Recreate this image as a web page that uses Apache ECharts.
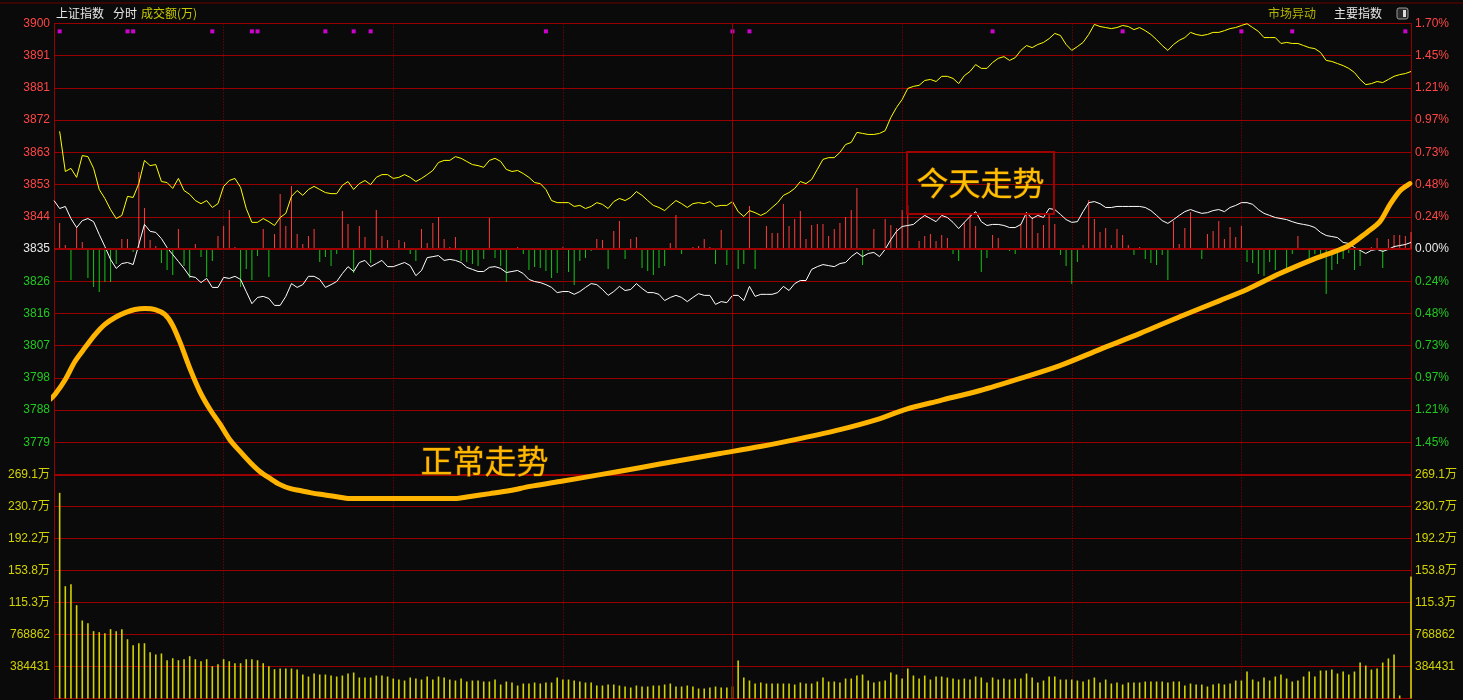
<!DOCTYPE html>
<html>
<head>
<meta charset="utf-8">
<title>上证指数 分时</title>
<script src="https://cdn.jsdelivr.net/npm/echarts@6/dist/echarts.min.js"></script>
<style>
  html, body { margin: 0; padding: 0; background: #0a0a0a; }
  #chart { width: 1463px; height: 700px; }
</style>
</head>
<body>
<div id="chart"></div>
<script>
// 昨收与每格点数
const prevClose = 3835;
const priceStep = 9.31;
const alertLevel = 3897.9;

const priceLabels = ['3900', '3891', '3881', '3872', '3863', '3853', '3844', '3835',
  '3826', '3816', '3807', '3798', '3788', '3779', ''];
const pctLabels = ['1.70%', '1.45%', '1.21%', '0.97%', '0.73%', '0.48%', '0.24%', '0.00%',
  '0.24%', '0.48%', '0.73%', '0.97%', '1.21%', '1.45%', ''];
const volLabels = ['', '384431', '768862', '115.3万', '153.8万', '192.2万', '230.7万', '269.1万'];

// 黄线（不含加权）
const yellowLine = [
  null, 3869.0, 3857.4, 3858.3, 3855.7, 3862.0, 3861.7, 3858.3, 3852.2, 3849.6,
  3846.4, 3843.8, 3844.7, 3850.2, 3849.9, 3853.9, 3860.6, 3859.1, 3859.4, 3854.5,
  3854.2, 3852.5, 3855.4, 3851.9, 3850.8, 3849.0, 3848.1, 3849.0, 3847.0, 3848.1,
  3853.1, 3854.8, 3855.4, 3852.8, 3846.7, 3842.7, 3842.7, 3843.8, 3842.9, 3841.8,
  3844.1, 3845.3, 3850.2, 3851.9, 3850.5, 3852.2, 3853.1, 3852.2, 3851.3, 3851.0,
  3851.0, 3853.4, 3854.5, 3852.2, 3853.9, 3854.8, 3853.6, 3855.7, 3856.5, 3856.5,
  3855.4, 3855.7, 3856.5, 3855.7, 3854.5, 3855.4, 3856.5, 3857.7, 3860.0, 3860.6,
  3860.6, 3861.7, 3861.2, 3860.3, 3859.4, 3859.1, 3858.6, 3860.6, 3861.2, 3860.3,
  3858.0, 3857.4, 3857.7, 3856.8, 3855.7, 3854.2, 3853.9, 3852.2, 3849.0, 3848.4,
  3848.4, 3848.4, 3847.3, 3847.6, 3846.7, 3847.3, 3848.4, 3847.9, 3846.7, 3848.7,
  3849.6, 3849.0, 3849.9, 3851.6, 3850.5, 3849.0, 3847.6, 3847.0, 3846.1, 3847.6,
  3849.0, 3848.1, 3847.0, 3848.1, 3848.4, 3848.1, 3848.7, 3847.3, 3847.6, 3847.6,
  3848.7, 3845.8, 3844.4, 3846.1, 3845.5, 3844.7, 3845.5, 3847.0, 3848.4, 3850.5,
  3851.3, 3852.5, 3854.5, 3853.9, 3855.1, 3858.0, 3860.9, 3861.4, 3861.4, 3862.9,
  3865.2, 3865.8, 3868.7, 3868.4, 3868.1, 3868.1, 3868.4, 3869.2, 3873.0, 3875.9,
  3878.2, 3881.4, 3882.0, 3882.3, 3883.7, 3884.0, 3883.4, 3884.9, 3884.9, 3884.3,
  3882.8, 3885.1, 3886.3, 3888.3, 3887.2, 3887.2, 3888.9, 3890.1, 3890.6, 3889.5,
  3890.3, 3892.4, 3893.8, 3893.2, 3894.1, 3894.7, 3895.8, 3897.3, 3896.7, 3894.1,
  3892.4, 3893.5, 3894.7, 3897.0, 3899.9, 3899.3, 3899.0, 3898.7, 3899.0, 3899.6,
  3899.3, 3898.4, 3899.0, 3898.1, 3897.0, 3895.5, 3893.8, 3892.4, 3894.1, 3895.3,
  3896.1, 3897.6, 3897.0, 3896.7, 3897.0, 3897.6, 3897.6, 3898.1, 3898.7, 3899.0,
  3899.6, 3900.1, 3899.0, 3897.9, 3896.1, 3896.1, 3896.1, 3894.4, 3894.7, 3894.4,
  3894.4, 3893.8, 3893.2, 3892.9, 3891.8, 3889.5, 3889.2, 3888.6, 3888.0, 3887.2,
  3886.0, 3884.0, 3882.5, 3882.8, 3883.4, 3883.1, 3884.0, 3884.9, 3885.4, 3885.7,
  3886.3
];

// 白线（上证指数）
const whiteLine = [
  3849.0, 3846.7, 3847.3, 3843.8, 3841.2, 3843.2, 3843.8, 3842.9, 3839.2, 3835.7,
  3832.0, 3829.4, 3830.8, 3831.1, 3830.5, 3836.3, 3842.1, 3840.1, 3839.8, 3838.0,
  3835.4, 3833.4, 3831.4, 3829.4, 3827.1, 3826.8, 3825.3, 3826.5, 3823.9, 3823.9,
  3826.8, 3826.5, 3827.1, 3826.2, 3822.7, 3819.2, 3821.0, 3821.3, 3820.7, 3818.7,
  3818.7, 3821.3, 3825.0, 3823.9, 3824.7, 3827.1, 3827.1, 3826.2, 3823.9, 3824.7,
  3825.6, 3827.9, 3829.9, 3828.5, 3831.1, 3831.7, 3829.9, 3830.8, 3831.7, 3829.9,
  3829.9, 3830.5, 3831.1, 3830.2, 3827.3, 3828.8, 3832.5, 3832.8, 3833.1, 3831.7,
  3832.0, 3831.7, 3831.1, 3829.7, 3829.1, 3828.5, 3828.5, 3829.7, 3829.9, 3829.4,
  3828.2, 3828.5, 3828.8, 3827.9, 3826.2, 3825.6, 3825.3, 3824.7, 3823.9, 3822.4,
  3822.7, 3822.7, 3821.9, 3822.7, 3823.9, 3825.0, 3824.7, 3823.3, 3821.6, 3822.7,
  3824.2, 3823.0, 3823.3, 3825.0, 3823.6, 3822.4, 3822.4, 3821.9, 3820.1, 3821.0,
  3821.6, 3821.0, 3819.8, 3821.0, 3822.1, 3821.6, 3821.6, 3819.0, 3819.8, 3819.5,
  3821.6, 3821.6, 3820.1, 3824.2, 3821.3, 3821.9, 3821.9, 3821.9, 3822.4, 3824.2,
  3823.0, 3825.0, 3825.9, 3825.9, 3829.1, 3829.9, 3830.5, 3830.2, 3829.9, 3830.8,
  3831.1, 3832.8, 3834.0, 3832.8, 3833.7, 3834.0, 3832.8, 3834.9, 3837.7, 3840.1,
  3841.5, 3841.8, 3842.1, 3843.5, 3844.7, 3843.8, 3842.9, 3844.7, 3844.1, 3842.7,
  3840.9, 3842.7, 3844.4, 3845.8, 3842.9, 3841.8, 3842.1, 3842.1, 3841.8, 3841.2,
  3841.2, 3842.1, 3845.5, 3843.8, 3844.7, 3844.1, 3846.7, 3846.4, 3845.0, 3843.5,
  3842.7, 3842.9, 3845.8, 3848.4, 3848.7, 3848.1, 3847.0, 3847.0, 3847.3, 3847.3,
  3847.3, 3847.3, 3847.3, 3847.0, 3846.1, 3844.7, 3843.2, 3842.4, 3843.5, 3844.7,
  3845.8, 3846.4, 3845.8, 3845.3, 3845.5, 3846.1, 3846.4, 3845.8, 3847.0, 3847.6,
  3848.4, 3848.4, 3847.9, 3846.4, 3845.3, 3844.7, 3844.1, 3843.8, 3843.5, 3842.9,
  3842.4, 3842.1, 3841.8, 3841.2, 3839.8, 3838.9, 3838.6, 3838.3, 3836.9, 3836.6,
  3835.4, 3834.6, 3833.7, 3834.6, 3834.9, 3834.3, 3834.9, 3835.7, 3836.0, 3836.3,
  3836.9
];

// 红绿柱（涨跌力度）
const breadth = [
  0, 26, 4, -31, 22, 7, -29, -38, -43, -33,
  -33, -15, 10, 10, -3, 77, 41, 9, 3, -14,
  -21, -26, 20, -17, -29, 5, -8, -28, -12, 13,
  23, 39, 2, -38, -20, -31, -7, 20, -28, 15,
  55, 23, 63, 15, 5, 13, 20, -13, -8, -17,
  -5, 38, 25, -24, 23, 12, -14, 39, 13, 9,
  -1, 9, 7, -5, -12, 20, 6, 26, 32, 10,
  2, 12, -12, -13, -15, -17, -10, 31, -9, -17,
  -33, 1, 2, -5, -21, -18, -19, -22, -29, -24,
  2, -23, -36, -12, -9, -2, 10, 9, -20, 18,
  28, -10, 10, 12, -19, -22, -26, -19, -17, 6,
  34, -5, -1, 2, 3, 10, 2, -15, 19, -16,
  17, -20, -15, 43, -20, 1, 23, 16, 16, 45,
  23, 30, 38, 10, 24, 25, 25, 13, 20, 26,
  32, 39, 61, -16, -2, 20, 1, 30, 24, 21,
  39, 44, -1, 8, 13, 15, 8, 14, 11, -5,
  -12, 27, 34, 23, -23, -9, 14, 11, 1, -2,
  -5, 25, 37, 32, 16, 24, 36, 25, -6, -17,
  -35, -13, 4, 49, 30, 17, 21, 4, 20, 14,
  4, -6, 2, -10, -14, -16, -6, -31, 28, 5,
  21, 37, -1, -10, 15, 18, 28, 10, 22, 12,
  23, -13, -14, -25, -27, -13, -21, 0, -19, -5,
  13, 0, -13, -5, -7, -45, -21, -15, -10, -4,
  -21, -17, 0, 2, 11, -19, 10, 14, 14, 13,
  17
];

// 成交额
const volume = [
  0, 2471000, 1349000, 1373000, 1121000, 937000, 905000, 809000, 797000, 785000,
  833000, 809000, 833000, 712000, 640000, 664000, 664000, 556000, 529000, 541000,
  460000, 484000, 460000, 472000, 508000, 472000, 448000, 472000, 388000, 412000,
  472000, 448000, 424000, 424000, 472000, 472000, 460000, 424000, 388000, 352000,
  360000, 360000, 360000, 348000, 288000, 264000, 300000, 288000, 288000, 276000,
  264000, 276000, 300000, 312000, 252000, 252000, 252000, 276000, 276000, 264000,
  240000, 228000, 216000, 252000, 240000, 228000, 264000, 228000, 264000, 252000,
  228000, 216000, 240000, 204000, 216000, 216000, 204000, 204000, 228000, 168000,
  204000, 192000, 156000, 180000, 180000, 192000, 180000, 192000, 192000, 252000,
  228000, 228000, 216000, 204000, 192000, 192000, 156000, 156000, 168000, 168000,
  156000, 144000, 132000, 156000, 144000, 144000, 156000, 156000, 168000, 180000,
  144000, 144000, 156000, 144000, 120000, 120000, 132000, 144000, 132000, 132000,
  144000, 457000, 252000, 216000, 180000, 192000, 180000, 180000, 180000, 180000,
  180000, 168000, 192000, 180000, 180000, 204000, 252000, 204000, 204000, 192000,
  240000, 240000, 276000, 288000, 216000, 192000, 204000, 216000, 312000, 288000,
  240000, 360000, 276000, 240000, 276000, 228000, 264000, 264000, 252000, 240000,
  228000, 240000, 228000, 264000, 252000, 192000, 252000, 228000, 240000, 228000,
  240000, 240000, 300000, 252000, 192000, 216000, 264000, 264000, 228000, 228000,
  228000, 216000, 204000, 228000, 252000, 192000, 228000, 180000, 192000, 168000,
  192000, 192000, 192000, 204000, 204000, 204000, 204000, 192000, 204000, 204000,
  156000, 180000, 168000, 168000, 144000, 168000, 180000, 168000, 180000, 216000,
  216000, 324000, 228000, 204000, 252000, 216000, 264000, 288000, 240000, 204000,
  216000, 264000, 324000, 264000, 336000, 336000, 348000, 300000, 324000, 288000,
  324000, 432000, 396000, 348000, 360000, 432000, 481000, 529000, 36000, 0,
  1466000
];

// 市场异动标记（分钟序号）
const alertMinutes = [1, 13, 14, 28, 35, 36, 48, 53, 56, 87, 120, 123, 166, 189, 210, 219, 239];

// 手绘“正常走势”曲线：分钟 / 点位
const normalTrendX = [-0.7, 0.2, 2.0, 3.7, 5.5, 7.3, 9.0, 10.8, 12.6, 14.3,
  16.1, 17.9, 19.6, 20.9, 22.3, 24.1, 25.8, 27.6, 29.4, 31.1,
  32.9, 34.7, 36.4, 38.2, 40.0, 41.7, 43.5, 45.3, 47.1, 49.7,
  52.4, 59.4, 66.5, 70.9, 73.6, 77.1, 80.7, 84.2, 89.5, 96.6,
  103.6, 110.7, 117.8, 124.9, 131.9, 139.0, 146.1, 150.5, 156.7, 163.8,
  170.9, 177.9, 185.0, 192.1, 199.2, 206.2, 211.0, 216.8, 222.7, 228.7,
  232.2, 234.5, 236.3, 238.1, 239.8];
const normalTrendY = [3791.5, 3793.0, 3797.3, 3802.5, 3806.5, 3810.3, 3813.2, 3815.2, 3816.6, 3817.5,
  3817.8, 3817.5, 3816.1, 3813.2, 3808.0, 3800.2, 3793.8, 3788.6, 3784.3, 3779.9,
  3776.5, 3773.3, 3770.7, 3768.7, 3766.9, 3765.8, 3765.2, 3764.6, 3764.1, 3763.5,
  3762.9, 3762.9, 3762.9, 3762.9, 3763.5, 3764.3, 3765.2, 3766.4, 3767.8, 3769.8,
  3771.8, 3773.9, 3775.9, 3777.9, 3780.2, 3782.8, 3786.0, 3788.6, 3791.2, 3794.1,
  3797.6, 3801.3, 3806.0, 3810.6, 3815.5, 3820.1, 3823.3, 3827.9, 3832.0, 3835.7,
  3839.8, 3842.9, 3847.9, 3851.9, 3853.9];

function buildMinutes() {
  const out = [];
  for (let i = 0; i <= 240; i++) {
    const t = i <= 120 ? 9 * 60 + 30 + i : 13 * 60 + (i - 120);
    out.push(String(Math.floor(t / 60)).padStart(2, '0') + ':' + String(t % 60).padStart(2, '0'));
  }
  return out;
}
const minutes = buildMinutes();

const RED = '#ff4646';
const GREEN = '#22c822';
const WHITE = '#e8e8e8';
const YEL = '#d2d200';
const LINE = '#980000';
const LABEL_FONT = '"Liberation Sans", "Noto Sans CJK SC", sans-serif';

function rowColor(v) {
  if (v < 7) return RED;
  if (v === 7) return WHITE;
  return GREEN;
}

const halfHour = (i) => i > 0 && i < 240 && i % 30 === 0 && i !== 120;

const chart = echarts.init(document.getElementById('chart'));
chart.setOption({
  animation: false,
  backgroundColor: '#0a0a0a',
  grid: [
    { left: 54, right: 52, top: 23.5, height: 451 },
    { left: 54, right: 52, top: 474.5, height: 224 }
  ],
  xAxis: [
    {
      type: 'category', gridIndex: 0, data: minutes, boundaryGap: false,
      axisLine: { show: false }, axisTick: { show: false }, axisLabel: { show: false },
      splitLine: { show: true, interval: halfHour, lineStyle: { color: LINE, type: [1, 2] } }
    },
    {
      type: 'category', gridIndex: 1, data: minutes, boundaryGap: false,
      axisLine: { show: true, lineStyle: { color: LINE } }, axisTick: { show: false }, axisLabel: { show: false },
      splitLine: { show: true, interval: halfHour, lineStyle: { color: LINE, type: [1, 2] } }
    },
    { type: 'value', gridIndex: 0, min: 0, max: 240, show: false }
  ],
  yAxis: [
    { type: 'value', gridIndex: 0, min: prevClose - 7 * priceStep, max: prevClose + 7 * priceStep, show: false },
    {
      type: 'value', gridIndex: 0, min: 0, max: 14, interval: 1, inverse: true, position: 'left',
      axisLine: { show: true, lineStyle: { color: LINE } }, axisTick: { show: false },
      axisLabel: {
        margin: 4, fontSize: 12, fontFamily: LABEL_FONT,
        formatter: (v) => priceLabels[v] || '',
        color: (v) => rowColor(Number(v))
      },
      splitLine: { show: true, lineStyle: { color: LINE } }
    },
    {
      type: 'value', gridIndex: 0, min: 0, max: 14, interval: 1, inverse: true, position: 'right',
      axisLine: { show: true, lineStyle: { color: LINE } }, axisTick: { show: false },
      axisLabel: {
        margin: 4, fontSize: 12, fontFamily: LABEL_FONT,
        formatter: (v) => pctLabels[v] || '',
        color: (v) => rowColor(Number(v))
      },
      splitLine: { show: false }
    },
    { type: 'value', gridIndex: 0, min: -225.5, max: 225.5, show: false },
    {
      type: 'value', gridIndex: 1, min: 0, max: 2691017, interval: 384431, position: 'left',
      axisLine: { show: true, lineStyle: { color: LINE } }, axisTick: { show: false },
      axisLabel: {
        margin: 4, fontSize: 12, fontFamily: LABEL_FONT, color: YEL,
        formatter: (v) => volLabels[Math.round(v / 384431)] || ''
      },
      splitLine: { show: true, lineStyle: { color: LINE } }
    },
    {
      type: 'value', gridIndex: 1, min: 0, max: 2691017, interval: 384431, position: 'right',
      axisLine: { show: true, lineStyle: { color: LINE } }, axisTick: { show: false },
      axisLabel: {
        margin: 4, fontSize: 12, fontFamily: LABEL_FONT, color: YEL,
        formatter: (v) => volLabels[Math.round(v / 384431)] || ''
      },
      splitLine: { show: false }
    }
  ],
  series: [
    {
      name: '涨跌', type: 'bar', xAxisIndex: 0, yAxisIndex: 3, data: breadth, barWidth: 1,
      itemStyle: { color: (p) => (p.value >= 0 ? '#ff3c3c' : '#16c416') }
    },
    {
      name: '不含加权', type: 'line', xAxisIndex: 0, yAxisIndex: 0, data: yellowLine,
      symbol: 'none', lineStyle: { color: '#ffff00', width: 1 },
      markLine: {
        silent: true, symbol: 'none', label: { show: false },
        lineStyle: { color: LINE, type: 'solid', width: 1 },
        data: [{ xAxis: minutes[120] }]
      }
    },
    {
      name: '上证指数', type: 'line', xAxisIndex: 0, yAxisIndex: 0, data: whiteLine,
      symbol: 'none', lineStyle: { color: '#ffffff', width: 1 },
      markLine: {
        silent: true, symbol: 'none', label: { show: false },
        lineStyle: { color: '#a00000', type: 'solid', width: 2 },
        data: [{ yAxis: prevClose }]
      }
    },
    {
      name: '市场异动', type: 'scatter', xAxisIndex: 0, yAxisIndex: 0,
      data: alertMinutes.map((m) => [m, alertLevel]),
      symbol: 'rect', symbolSize: 4, itemStyle: { color: '#ff00ff' }
    },
    {
      name: '成交额', type: 'bar', xAxisIndex: 1, yAxisIndex: 4, data: volume, barWidth: 1.6,
      itemStyle: { color: YEL },
      markLine: {
        silent: true, symbol: 'none', label: { show: false },
        lineStyle: { color: LINE, type: 'solid', width: 1 },
        data: [{ xAxis: minutes[120] }]
      }
    },
    {
      name: '正常走势', type: 'line', xAxisIndex: 2, yAxisIndex: 0,
      data: normalTrendX.map((x, i) => [x, normalTrendY[i]]),
      smooth: 0.3, symbol: 'none', clip: false, z: 10,
      lineStyle: { color: '#ffb400', width: 5, cap: 'round', join: 'round' }
    }
  ],
  graphic: [
    { type: 'line', shape: { x1: 0, y1: 3, x2: 1463, y2: 3 }, style: { stroke: '#6a0000', lineWidth: 1 }, silent: true },
    // 分隔线（成交额面板顶部）
    { type: 'line', shape: { x1: 54, y1: 475, x2: 1411, y2: 475 }, style: { stroke: '#a00000', lineWidth: 2 }, silent: true },
    { type: 'text', left: 56, top: 7, style: { text: '上证指数', fill: '#e6e6e6', font: '12px "Noto Sans CJK SC"' } },
    { type: 'text', left: 113, top: 7, style: { text: '分时', fill: '#e6e6e6', font: '12px "Noto Sans CJK SC"' } },
    { type: 'text', left: 141, top: 7, style: { text: '成交额(万)', fill: '#c8c800', font: '12px "Noto Sans CJK SC"' } },
    { type: 'text', left: 1268, top: 7, style: { text: '市场异动', fill: '#b4b400', font: '12px "Noto Sans CJK SC"' } },
    { type: 'text', left: 1334, top: 7, style: { text: '主要指数', fill: '#e6e6e6', font: '12px "Noto Sans CJK SC"' } },
    { type: 'rect', shape: { x: 1397, y: 8, width: 11, height: 11, r: 2 }, style: { fill: '#2a2a2a', stroke: '#9a9a9a', lineWidth: 1 }, silent: true },
    { type: 'rect', shape: { x: 1403, y: 10, width: 3, height: 7 }, style: { fill: '#dddddd' }, silent: true },
    { type: 'rect', shape: { x: 907, y: 152, width: 147, height: 62 }, style: { fill: 'none', stroke: '#a00000', lineWidth: 2 }, silent: true, z: 20 },
    { type: 'text', left: 916, top: 166, z: 20, style: { text: '今天走势', fill: '#ffbf00', stroke: '#6b4200', lineWidth: 1, font: '32px "Noto Sans CJK SC"' } },
    { type: 'text', left: 420, top: 444, z: 20, style: { text: '正常走势', fill: '#ffb800', stroke: '#6b4200', lineWidth: 1, font: '32px "Noto Sans CJK SC"' } }
  ]
});
</script>
</body>
</html>
